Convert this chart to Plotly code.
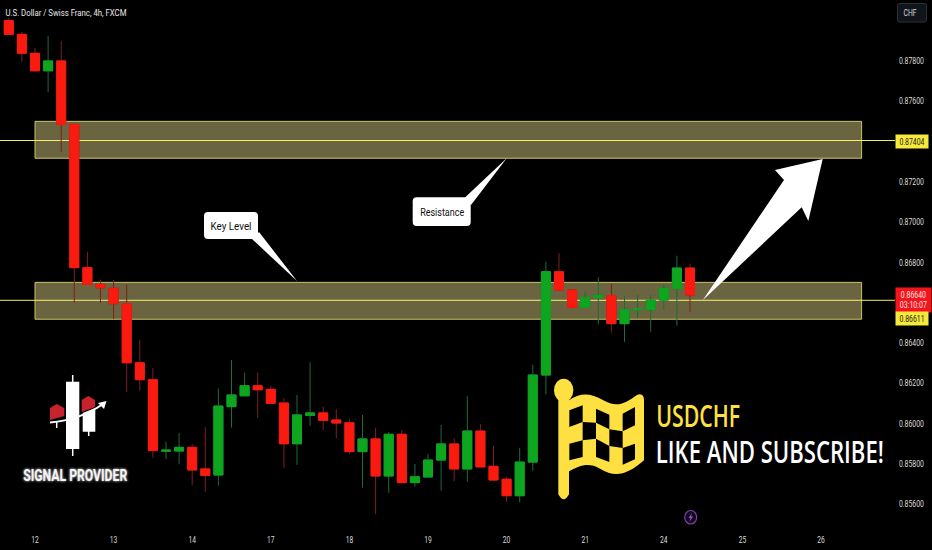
import json
import plotly.graph_objects as go

# ---------- data ----------
opens = [.87999,.87931,.87837,.87750,.87799,.87484,.86773,.86690,.86671,.86594,.86301,.86217,.85862,.85863,.85881,.85774,.85744,.86083,.86137,.86187,.86169,.86101,.85899,.86040,.86052,.86017,.86003,.85860,.85923,.85739,.85946,.85706,.85734,.85818,.85898,.85774,.85962,.85787,.85723,.85641,.85808,.86240,.86753,.86662,.86576,.86624,.86634,.86495,.86563,.86564,.86612,.86669,.86771]
highs = [.88012,.87943,.87863,.87923,.87898,.87486,.86852,.86712,.86712,.86690,.86414,.86275,.85909,.85952,.85898,.85981,.86174,.86315,.86252,.86252,.86187,.86125,.86141,.86303,.86083,.86071,.86020,.86042,.85979,.85956,.85967,.85799,.85848,.85992,.85926,.86136,.85996,.85889,.85735,.85879,.86290,.86803,.86844,.86667,.86654,.86725,.86692,.86632,.86637,.86637,.86687,.86832,.86791]
lows  = [.87931,.87795,.87749,.87645,.87347,.86598,.86687,.86598,.86518,.86156,.86162,.85830,.85823,.85797,.85694,.85661,.85691,.85979,.86137,.86028,.86096,.85780,.85794,.85989,.85967,.85926,.85847,.85681,.85549,.85655,.85706,.85686,.85734,.85666,.85714,.85711,.85784,.85714,.85611,.85608,.85764,.86144,.86657,.86573,.86573,.86492,.86450,.86405,.86522,.86455,.86563,.86485,.86554]
closes= [.87931,.87837,.87750,.87799,.87484,.86773,.86690,.86673,.86594,.86301,.86217,.85865,.85867,.85881,.85769,.85742,.86086,.86141,.86187,.86167,.86100,.85899,.86042,.86052,.86015,.86002,.85860,.85923,.85739,.85946,.85706,.85735,.85818,.85898,.85774,.85962,.85784,.85719,.85641,.85808,.86240,.86753,.86662,.86576,.86624,.86636,.86495,.86566,.86569,.86611,.86671,.86771,.86637]
day_positions = [2, 8, 14, 20, 26, 32, 38, 44, 50, 56, 62]
day_labels = ["12", "13", "14", "17", "18", "19", "20", "21", "24", "25", "26"]
price_ticks = [.856, .858, .860, .862, .864, .868, .870, .872, .876, .878]
resistance_zone = (.87316, .87499)
key_zone = (.86517, .86700)
resistance_level = .87404
key_level = .86611
last_price = .86640
countdown = "03:10:07"

FONT = "Roboto"
W, H = 888, 516
X_RANGE = [-0.672, 67.115]
xs = list(range(len(opens)))


def P(x, y):
    return f"{x / W:.5f},{1 - y / H:.5f}"


def poly(pts):
    return "M" + " L".join(P(*p) for p in pts) + " Z"


def round_box(x0, y0, x1, y1, r=4):
    return (f"M{P(x0 + r, y0)} L{P(x1 - r, y0)} Q{P(x1, y0)} {P(x1, y0 + r)} "
            f"L{P(x1, y1 - r)} Q{P(x1, y1)} {P(x1 - r, y1)} L{P(x0 + r, y1)} "
            f"Q{P(x0, y1)} {P(x0, y1 - r)} L{P(x0, y0 + r)} Q{P(x0, y0)} {P(x0 + r, y0)} Z")


def paper_shape(path, fill="white", line=None, width=0):
    return dict(type="path", xref="paper", yref="paper", path=path, fillcolor=fill,
                line=dict(color=line or fill, width=width), layer="above")


def text(x, y, s, size, color="white", font=FONT, **kw):
    return dict(xref="paper", yref="paper", x=x / W, y=1 - y / H, text=s, showarrow=False,
                xanchor="center", yanchor="middle", font=dict(family=font, size=size, color=color, **kw))


fig = go.Figure()
fig.add_trace(go.Candlestick(
    x=xs, open=opens, high=highs, low=lows, close=closes, showlegend=False, hoverinfo="skip",
    increasing=dict(line=dict(color="#1d6b3c", width=1), fillcolor="#0ea51f"),
    decreasing=dict(line=dict(color="#7d2020", width=1), fillcolor="#fb1a10")))
fig.add_trace(go.Candlestick(
    x=xs, open=opens, close=closes,
    high=[max(a, b) for a, b in zip(opens, closes)],
    low=[min(a, b) for a, b in zip(opens, closes)],
    showlegend=False, hoverinfo="skip",
    increasing=dict(line=dict(color="#0ea51f", width=1), fillcolor="#0ea51f"),
    decreasing=dict(line=dict(color="#fb1a10", width=1), fillcolor="#fb1a10")))

shapes = []
for lo, hi in (resistance_zone, key_zone):
    shapes.append(dict(type="rect", xref="x", yref="y", x0=2, x1=65.1, y0=lo, y1=hi, layer="below",
                       fillcolor="#6a6441", line=dict(color="#c9c566", width=1)))
for lvl in (resistance_level, key_level):
    shapes.append(dict(type="line", xref="x", yref="y", x0=X_RANGE[0], x1=X_RANGE[1], y0=lvl, y1=lvl, layer="below",
                       line=dict(color="#f4f06a", width=1)))
    shapes.append(dict(type="line", xref="paper", yref="y", x0=1, x1=895 / W, y0=lvl, y1=lvl, layer="above",
                       line=dict(color="#f4f06a", width=1)))

# big arrow
shapes.append(paper_shape(poly([(702.7, 300.3), (784, 180), (775, 170), (822.7, 159),
                                (808.3, 221), (801.7, 207.3)])))
# callouts
shapes.append(paper_shape(round_box(204, 212, 258, 239)))
shapes.append(paper_shape(poly([(252, 239), (259, 232), (297, 281)])))
shapes.append(paper_shape(round_box(412.7, 197.3, 470.7, 226)))
shapes.append(paper_shape(poly([(465, 197.5), (471, 205), (506.7, 158.3)])))

# logo
white = "#ffffff"
for x, y0, y1 in ((72.7, 375, 456), (88.7, 431, 436), (56.7, 422, 428)):
    shapes.append(dict(type="line", xref="paper", yref="paper", x0=x / W, x1=x / W,
                       y0=1 - y0 / H, y1=1 - y1 / H, line=dict(color=white, width=1.5), layer="above"))
shapes.append(paper_shape(poly([(50, 408), (56.7, 404), (64.3, 408), (64.3, 416), (50, 420)]), "#c8232c"))
shapes.append(paper_shape(poly([(81.7, 400), (88.3, 396), (95, 400), (95, 407), (81.7, 412)]), "#c8232c"))
shapes.append(paper_shape(poly([(82.7, 413), (95.3, 408), (95.3, 431.7), (82.7, 431.7)])))
shapes.append(paper_shape(poly([(66, 381.7), (79.3, 381.7), (79.3, 449), (66, 449)])))
shapes.append(dict(type="path", xref="paper", yref="paper", layer="above",
                   path=f"M{P(50, 422.5)} Q{P(80, 420)} {P(103, 404)}",
                   line=dict(color=white, width=2)))
shapes.append(paper_shape(poly([(98, 403), (106.5, 401), (104, 409)])))

# flag


def F(zx, zy):
    return 550 + zx / 3, 372 + zy / 3


def FP(zx, zy):
    return P(*F(zx, zy))


yellow = "#fee140"
flag_path = (f"M{FP(25, 70)} L{FP(57, 70)} L{FP(57, 85)} C{FP(90, 62)} {FP(120, 62)} {FP(160, 85)} "
             f"C{FP(200, 108)} {FP(225, 95)} {FP(262, 68)} Q{FP(282, 62)} {FP(282, 85)} L{FP(282, 265)} "
             f"C{FP(230, 310)} {FP(195, 318)} {FP(150, 290)} C{FP(115, 270)} {FP(90, 280)} {FP(57, 298)} "
             f"L{FP(57, 367)} Q{FP(41, 397)} {FP(25, 367)} Z")
shapes.append(paper_shape(flag_path, yellow))
shapes.append(dict(type="circle", xref="paper", yref="paper", layer="above",
                   x0=F(12, 0)[0] / W, x1=F(70, 0)[0] / W,
                   y0=1 - F(0, 20)[1] / H, y1=1 - F(0, 90)[1] / H,
                   fillcolor=yellow, line=dict(width=0)))
checks = [[(58, 115), (98, 100), (98, 150), (58, 165)],
          [(138, 110), (178, 128), (178, 172), (138, 152)],
          [(218, 125), (255, 105), (255, 160), (218, 178)],
          [(98, 150), (138, 152), (138, 200), (98, 205)],
          [(178, 172), (218, 178), (218, 228), (178, 222)],
          [(58, 215), (98, 205), (98, 255), (58, 265)],
          [(138, 200), (178, 222), (178, 270), (138, 255)],
          [(218, 228), (255, 215), (255, 262), (218, 278)]]
for q in checks:
    shapes.append(paper_shape(poly([F(*p) for p in q]), "#000000"))

# purple icon
shapes.append(dict(type="circle", xref="paper", yref="paper", layer="above",
                   x0=684.7 / W, x1=696.7 / W, y0=1 - 524 / H, y1=1 - 510.5 / H,
                   fillcolor="#14081c", line=dict(color="#7f3fa8", width=1.2)))
shapes.append(paper_shape(poly([(692, 513), (688.5, 518), (690.5, 518), (689.5, 522), (693, 516.5), (691, 516.5)]),
                          "#9a4fc8"))

# CHF button
shapes.append(dict(type="path", xref="paper", yref="paper", path=round_box(897.5, 3.5, 926.5, 22, 2),
                   fillcolor="#10151b", line=dict(color="#2c3138", width=1), layer="above"))

annotations = [
    text(65.5, 12.5, "U.S. Dollar / Swiss Franc, 4h, FXCM", 9.5, "#e8e8e8"),
    text(231, 226, "Key Level", 11.5, "#111111"),
    text(441.5, 211.5, "Resistance", 11.5, "#111111"),
    text(74.5, 475.5, "<b>SIGNAL PROVIDER</b>", 16, "#f4f4f4", shadow="0 0 3px #ffffff"),
    text(698, 414.5, "USDCHF", 31, "#fee140", font="Open Sans", weight=600),
    text(770, 451, "LIKE AND SUBSCRIBE!", 31, "#ffffff", font="Open Sans", weight=600),
    text(909.5, 12.5, "CHF", 9.5, "#d8d8d8"),
]
for y, h, bg, col, s, x0, w0, fs in (
        (141, 13, "#f6e93a", "#222222", f"{resistance_level:.5f}", 895, 32, 8.6),
        (300, 24, "#f4141c", "#f9e4e0", f"{last_price:.5f}<br>{countdown}", 895, 35, 8.4),
        (318.5, 13, "#f6e93a", "#222222", f"{key_level:.5f}", 895, 32, 8.6)):
    annotations.append(dict(xref="paper", yref="paper", x=x0 / W, y=1 - y / H, xanchor="left", yanchor="middle",
                            text=s, showarrow=False, width=w0, height=h, bgcolor=bg, borderpad=0, align="center",
                            font=dict(family=FONT, size=fs, color=col)))

axis_common = dict(showgrid=False, zeroline=False, showline=False, ticks="outside",
                   tickcolor="rgba(0,0,0,0)", tickfont=dict(family=FONT, size=9.5, color="#dcdcdc"))
fig.update_layout(
    width=932, height=550, autosize=False,
    margin=dict(l=0, r=44, t=0, b=34),
    paper_bgcolor="#000000", plot_bgcolor="#000000",
    showlegend=False, shapes=shapes, annotations=annotations,
    boxgap=0.15, boxgroupgap=0.19,
    xaxis=dict(range=X_RANGE, tickmode="array", tickvals=day_positions, ticktext=day_labels,
               ticklen=15, rangeslider=dict(visible=False), **axis_common),
    yaxis=dict(range=[.855404, .881014], side="right", tickmode="array", tickvals=price_ticks,
               tickformat=".5f", ticklen=8, **axis_common),
)

# rendered widths of the condensed lettering of the reference
text_widths = {
    "U.S. Dollar / Swiss Franc, 4h, FXCM": 121, "Key Level": 41, "Resistance": 44,
    "SIGNAL PROVIDER": 104, "USDCHF": 84, "LIKE AND SUBSCRIBE!": 228, "CHF": 13,
    f"{resistance_level:.5f}": 25, f"{key_level:.5f}": 25, f"{last_price:.5f}": 25, countdown: 27,
}
post = """
document.body.style.margin='0';document.body.style.background='#000';
var widths=%s;
function squeeze(el,w){el.setAttribute('textLength',w);el.setAttribute('lengthAdjust','spacingAndGlyphs');}
document.querySelectorAll('.annotation-text').forEach(function(t){
  var lines=t.querySelectorAll('tspan.line');
  if(lines.length){lines.forEach(function(l){var w=widths[l.textContent];if(w)squeeze(l,w);});}
  else{var w=widths[t.textContent];if(w)squeeze(t,w);}
});
document.querySelectorAll('.ytick text').forEach(function(t){squeeze(t,25);});
document.querySelectorAll('.xtick text').forEach(function(t){squeeze(t,7.5);});
""" % json.dumps(text_widths)
fig.write_html("out.html", config={"displayModeBar": False}, post_script=post)
